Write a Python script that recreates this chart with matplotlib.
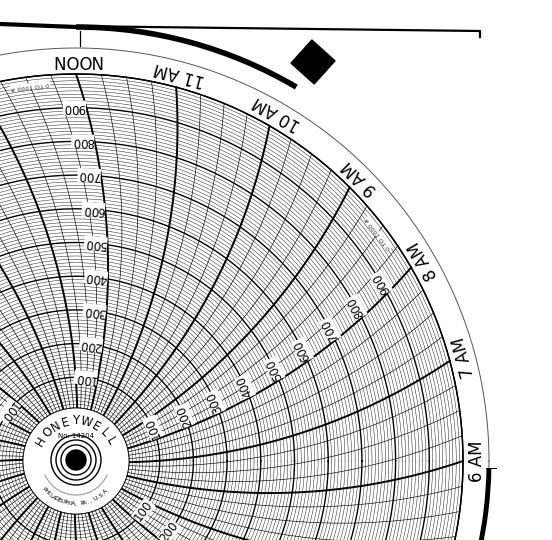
import numpy as np
import matplotlib
matplotlib.use("Agg")
import matplotlib.pyplot as plt
from matplotlib.patches import Circle, Polygon, Arc

# ---- data ----
hour_labels = ["NOON", "11 AM", "10 AM", "9 AM", "8 AM", "7 AM", "6 AM", "5 AM", "4 AM", "3 AM",
               "2 AM", "1 AM", "MIDNIGHT", "11 PM", "10 PM", "9 PM", "8 PM", "7 PM", "6 PM",
               "5 PM", "4 PM", "3 PM", "2 PM", "1 PM"]
subdiv_per_hour = 4
value_min, value_max = 0, 1000
minor_step = 10
major_step = 100
value_labels = [100, 200, 300, 400, 500, 600, 700, 800, 900]
labelled_hours = [0, 4, 8, 20]   # indices into hour_labels carrying value scales
range_text = "0 TO 1000 #"

# ---- geometry ----
W, H = 552, 540
cx, cy = 76, 461
r0 = 50.0
R0 = 387.0
Ra = 600.0
R_out = 413.0

def val2r(v):
    return r0 + (R0 - r0) * (v - value_min) / (value_max - value_min)

def line_angle(r, th0):
    return th0 + np.arccos(R0 / (2 * Ra)) - np.arccos(r / (2 * Ra))

def xy(r, th):
    return cx + r * np.cos(th), cy - r * np.sin(th)

def inside(x, y, m=8):
    return -m < x < W + m and -m < y < H + m

fig = plt.figure(figsize=(W / 100, H / 100), dpi=100)
ax = fig.add_axes([0, 0, 1, 1])
ax.set_xlim(0, W)
ax.set_ylim(H, 0)
ax.axis("off")
ax.set_aspect("equal")

t = np.linspace(0, 2 * np.pi, 720)
for v in range(value_min, value_max + 1, minor_step):
    r = val2r(v)
    major = v % major_step == 0
    ax.plot(cx + r * np.cos(t), cy - r * np.sin(t), color="black",
            lw=1.0 if major else 0.3, zorder=2)
n_lines = len(hour_labels) * subdiv_per_hour
rr = np.linspace(r0, R0, 200)
for k in range(n_lines):
    th0 = np.radians(90 - k * 360 / n_lines)
    a = line_angle(rr, th0)
    x, y = xy(rr, a)
    major = k % subdiv_per_hour == 0
    ax.plot(x, y, color="black", lw=1.4 if major else 0.45, zorder=3)

ax.plot(cx + R0 * np.cos(t), cy - R0 * np.sin(t), color="black", lw=1.0, zorder=3)
ax.plot(cx + R_out * np.cos(t), cy - R_out * np.sin(t), color="#555555", lw=0.7, zorder=3)

for i, lab in enumerate(hour_labels):
    th = np.radians(90 - i * 15)
    x, y = xy(401, th)
    if not inside(x, y):
        continue
    ax.text(x, y, lab, rotation=np.degrees(th) + 90, ha="center", va="center",
            fontsize=12, family="DejaVu Sans", color="black", zorder=5,
            rotation_mode="anchor")

for i in labelled_hours:
    th0 = np.radians(90 - i * 15)
    for v in value_labels:
        r = val2r(v)
        a = line_angle(r, th0) + 12.0 / r
        x, y = xy(r, a)
        if not inside(x, y):
            continue
        ax.text(x, y, str(v), rotation=np.degrees(a) + 90, ha="center", va="center",
                fontsize=8.5, color="black", zorder=6, rotation_mode="anchor",
                bbox=dict(facecolor="white", edgecolor="none", pad=0.3))
    a = th0 + np.radians(7)
    x, y = xy(378, a)
    if inside(x, y):
        ax.text(x, y, range_text, rotation=np.degrees(a) + 90, ha="center", va="center",
                fontsize=4.5, color="#333333", zorder=6, rotation_mode="anchor",
                bbox=dict(facecolor="white", edgecolor="none", pad=0.2))

# hub
ax.add_patch(Circle((cx, cy), 53, facecolor="white", edgecolor="black", lw=0.6, zorder=7))
for rad in (25, 20, 15):
    ax.add_patch(Circle((cx, cy - 1), rad, facecolor="none", edgecolor="black", lw=1.0, zorder=8))
ax.add_patch(Circle((cx, cy - 1), 10, facecolor="black", edgecolor="black", zorder=8))
tt = np.linspace(np.radians(205), np.radians(335), 100)
ax.plot(cx + 34 * np.cos(tt), cy - 34 * np.sin(tt), color="#999999", lw=0.8, zorder=8)

def curved(text, radius, a_start, a_end, top, size):
    angs = np.linspace(a_start, a_end, len(text))
    for ch, a in zip(text, angs):
        x, y = xy(radius, np.radians(a))
        rot = a - 90 if top else a + 90
        ax.text(x, y, ch, rotation=rot, ha="center", va="center", fontsize=size,
                zorder=9, rotation_mode="anchor")
curved("HONEYWELL", 40, 150, 30, True, 8.5)
curved("PHILADELPHIA, PA., U.S.A.", 43, 222, 318, False, 4.5)
ax.text(cx, cy - 25, "No. 14204", ha="center", va="center", fontsize=5, zorder=9)

# border decorations (y axis inverted -> arc angles negated)
ax.plot([0, cx], [24, 27], color="black", lw=3, solid_capstyle="butt", zorder=10)
ax.add_patch(Arc((cx, cy), 2 * 434, 2 * 434, theta1=-90, theta2=-59.5, color="black", lw=4, zorder=10))
ax.plot([65, 480, 480], [26, 31, 37], color="black", lw=1.6, zorder=10)
ax.add_patch(Arc((cx, cy), 2 * R_out, 2 * R_out, theta1=1, theta2=13, color="black", lw=3.5, zorder=10))
ax.plot([cx + 410, cx + 420], [cy + 7, cy + 7], color="black", lw=0.7, zorder=10)
ax.plot([cx + 4, cx + 4], [31, 46], color="black", lw=0.9, zorder=10)
dc, dr, drot = (313, 62), 22, np.radians(-3)
ang = drot + np.arange(4) * np.pi / 2
ax.add_patch(Polygon(np.c_[dc[0] + dr * np.cos(ang), dc[1] + dr * np.sin(ang)],
                     closed=True, color="black", zorder=10))

fig.savefig("out.png", dpi=100, facecolor="white")
